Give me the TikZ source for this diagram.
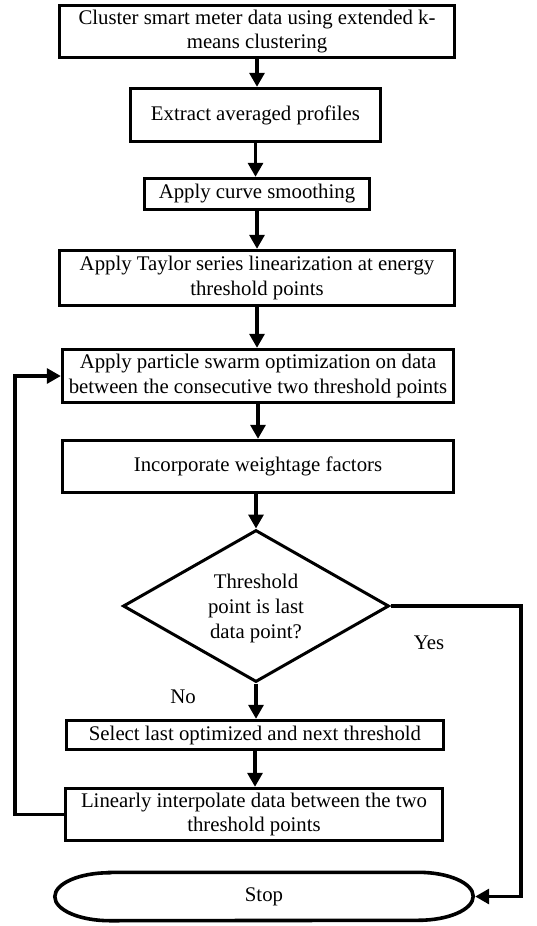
\documentclass[tikz,border=0pt]{standalone}
\usepackage{fontspec}
\setmainfont{Liberation Serif}
\usetikzlibrary{arrows.meta,shapes.geometric}
\begin{document}
\begin{tikzpicture}[x=1pt,y=-1pt,
  box/.style={draw,line width=3.4pt,rectangle,align=center,inner sep=1pt,font=\fontsize{20.8}{24.5}\selectfont},
  lbl/.style={font=\fontsize{20.8}{25}\selectfont,inner sep=0pt},
  arr/.style={line width=3.2pt,-{Triangle[length=14pt,width=15pt]}}]
\useasboundingbox (0,0) rectangle (536,926);
\node[box,minimum width=395pt,minimum height=52pt] (b1) at (257,31.5) {Cluster smart meter data using extended k-\\means clustering};
\node[box,minimum width=250pt,minimum height=53pt] (b2) at (255.5,115) {Extract averaged profiles};
\node[box,minimum width=225pt,minimum height=31pt] (b3) at (257,194) {Apply curve smoothing};
\node[box,minimum width=395pt,minimum height=55pt] (b4) at (257,278) {Apply Taylor series linearization at energy\\threshold points};
\node[box,minimum width=391pt,minimum height=53pt] (b5) at (258,376) {Apply particle swarm optimization on data\\between the consecutive two threshold points};
\node[box,minimum width=391pt,minimum height=52pt] (b6) at (258,466.5) {Incorporate weightage factors};
\node[draw,diamond,line width=3pt,minimum width=266pt,minimum height=152pt,inner sep=0pt] (dec) at (256,606) {};
\node[lbl,align=center] (dect) at (256,608) {Threshold\\point is last\\data point?};
\node[box,minimum width=377pt,minimum height=29pt] (b7) at (255,735) {Select last optimized and next threshold};
\node[box,minimum width=377pt,minimum height=52pt] (b8) at (254,814.5) {Linearly interpolate data between the two\\threshold points};
\node[minimum width=418pt,minimum height=48pt,inner sep=0pt,font=\fontsize{20.8}{24.5}\selectfont] (stop) at (264,896.5) {Stop};
\draw[line width=3.6pt] ([xshift=55pt]stop.north west) -- ([xshift=-55pt]stop.north east)
  arc[start angle=90,end angle=-90,x radius=55pt,y radius=24pt]
  -- ([xshift=55pt]stop.south west)
  arc[start angle=270,end angle=90,x radius=55pt,y radius=24pt] -- cycle;
\node[lbl] (yes) at (429,643) {Yes};
\node[lbl] (no) at (183,697) {No};
\coordinate (yc) at (521,606);
\coordinate (lc) at (15,377);
\draw[arr] (b1.south) -- (b1.south |- b2.north);
\draw[arr] (b2.south) -- (b2.south |- b3.north);
\draw[arr] (b3.south) -- (b3.south |- b4.north);
\draw[arr] (b4.south) -- (b4.south |- b5.north);
\draw[arr] (b5.south) -- (b5.south |- b6.north);
\draw[arr] (b6.south -| dec.north) -- (dec.north);
\draw[arr] (dec.south) -- (dec.south |- b7.north);
\draw[arr] (b7.south) -- (b7.south |- b8.north);
\draw[arr] (dec.east) -- (yc) |- ([xshift=2pt]stop.east);
\draw[arr] (b8.west) -- (b8.west -| lc) |- (b5.west);
\end{tikzpicture}
\end{document}
